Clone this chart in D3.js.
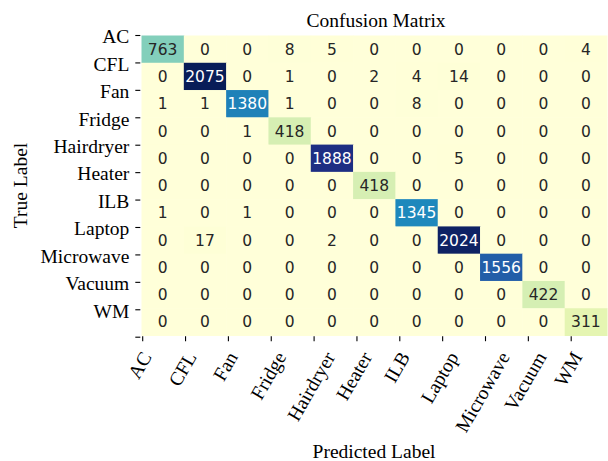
<!doctype html>
<html>
<head>
  <meta charset="UTF-8">
  <script src="https://d3js.org/d3.v7.min.js"></script>
  <style>
    body { margin: 0; background: #fff; }
    .serif { font-family: "Liberation Serif", "Times New Roman", serif; }
    .annot { font-family: "DejaVu Sans", sans-serif; font-size: 15.5px; }
  </style>
</head>
<body>
<svg width="608" height="461"></svg>
<script>
// appliance classes, same order on both axes
var labels = ["AC", "CFL", "Fan", "Fridge", "Hairdryer", "Heater", "ILB",
              "Laptop", "Microwave", "Vacuum", "WM"];

// one row per true label, columns are predicted labels
var rowAC        = [763, 0, 0, 8, 5, 0, 0, 0, 0, 0, 4];
var rowCFL       = [0, 2075, 0, 1, 0, 2, 4, 14, 0, 0, 0];
var rowFan       = [1, 1, 1380, 1, 0, 0, 8, 0, 0, 0, 0];
var rowFridge    = [0, 0, 1, 418, 0, 0, 0, 0, 0, 0, 0];
var rowHairdryer = [0, 0, 0, 0, 1888, 0, 0, 5, 0, 0, 0];
var rowHeater    = [0, 0, 0, 0, 0, 418, 0, 0, 0, 0, 0];
var rowILB       = [1, 0, 1, 0, 0, 0, 1345, 0, 0, 0, 0];
var rowLaptop    = [0, 17, 0, 0, 2, 0, 0, 2024, 0, 0, 0];
var rowMicrowave = [0, 0, 0, 0, 0, 0, 0, 0, 1556, 0, 0];
var rowVacuum    = [0, 0, 0, 0, 0, 0, 0, 0, 0, 422, 0];
var rowWM        = [0, 0, 0, 0, 0, 0, 0, 0, 0, 0, 311];

var matrix = [rowAC, rowCFL, rowFan, rowFridge, rowHairdryer, rowHeater,
              rowILB, rowLaptop, rowMicrowave, rowVacuum, rowWM];

// YlGnBu stops (matplotlib)
var ylgnbu = ["#ffffd9", "#edf8b1", "#c7e9b4", "#7fcdbb", "#41b6c4",
              "#1d91c0", "#225ea8", "#253494", "#081d58"];

var svg = d3.select("svg");
var fs = 19.5;

var mLeft = 141.5, mRight = 607, mTop = 35.5, mBottom = 335.5;
var n = labels.length;

var x = d3.scaleBand().domain(d3.range(n)).range([mLeft, mRight]);
var y = d3.scaleBand().domain(d3.range(n)).range([mTop, mBottom]);

// tick positions sit on cell edges
var xt = d3.scaleLinear().domain([0, 10]).range([142.2, 570.7]);
var yt = d3.scaleLinear().domain([0, 11]).range([35, 336.7]);

var vmax = d3.max(matrix, function(r) { return d3.max(r); });
var color = d3.scaleLinear()
    .domain(d3.range(ylgnbu.length).map(function(i) { return i * vmax / (ylgnbu.length - 1); }))
    .range(ylgnbu)
    .interpolate(d3.interpolateRgb);

function lum(c) {
  var rgb = d3.rgb(c);
  var f = function(v) { v = v / 255; return v <= 0.03928 ? v / 12.92 : Math.pow((v + 0.055) / 1.055, 2.4); };
  return 0.2126 * f(rgb.r) + 0.7152 * f(rgb.g) + 0.0722 * f(rgb.b);
}

var cells = [];
matrix.forEach(function(row, i) {
  row.forEach(function(v, j) { cells.push({r: i, c: j, v: v}); });
});

var g = svg.append("g");
g.selectAll("rect").data(cells).enter().append("rect")
  .attr("x", function(d) { return x(d.c); })
  .attr("y", function(d) { return y(d.r); })
  .attr("width", x.bandwidth() + 0.5)
  .attr("height", y.bandwidth() + 0.5)
  .attr("fill", function(d) { return color(d.v); });

g.selectAll("text").data(cells).enter().append("text")
  .attr("class", "annot")
  .attr("x", function(d) { return x(d.c) + x.bandwidth() / 2; })
  .attr("y", function(d) { return y(d.r) + y.bandwidth() / 2; })
  .attr("dy", "0.36em")
  .attr("text-anchor", "middle")
  .attr("fill", function(d) { return lum(color(d.v)) > 0.408 ? "#262626" : "#ffffff"; })
  .text(function(d) { return d.v; });

// y axis
var yAxis = svg.append("g")
  .attr("transform", "translate(140.3,0)")
  .call(d3.axisLeft(yt).tickValues(d3.range(12)).tickSize(5).tickPadding(6)
    .tickFormat(function(d) { return d < n ? labels[d] : ""; }));
yAxis.select(".domain").remove();
yAxis.selectAll("line").attr("stroke", "#000").attr("stroke-width", 1.1);
yAxis.selectAll("text")
  .attr("class", "serif")
  .attr("font-size", fs)
  .attr("fill", "#000")
  .attr("dy", "0.4em");

// x axis
var xAxis = svg.append("g")
  .attr("transform", "translate(0,336.2)")
  .call(d3.axisBottom(xt).tickValues(d3.range(n)).tickSize(5)
    .tickFormat(function(d) { return labels[d]; }));
xAxis.select(".domain").remove();
xAxis.selectAll("line").attr("stroke", "#000").attr("stroke-width", 1.1);
xAxis.selectAll("text")
  .attr("class", "serif")
  .attr("font-size", fs)
  .attr("fill", "#000")
  .attr("text-anchor", "end")
  .attr("y", 0)
  .attr("dy", null)
  .attr("transform", function() {
    var L = this.getComputedTextLength();
    var px = -3 + 0.25 * L + 0.433 * 0.68 * fs;
    var py = 14 + 0.34 * fs;
    return "translate(" + px + "," + py + ") rotate(-60)";
  });

// titles
svg.append("text").attr("class", "serif")
  .attr("x", 376).attr("y", 26.5)
  .attr("text-anchor", "middle").attr("font-size", fs)
  .text("Confusion Matrix");

svg.append("text").attr("class", "serif")
  .attr("x", 374).attr("y", 458)
  .attr("text-anchor", "middle").attr("font-size", fs)
  .text("Predicted Label");

svg.append("text").attr("class", "serif")
  .attr("transform", "translate(26.5,185.5) rotate(-90)")
  .attr("text-anchor", "middle").attr("font-size", fs)
  .text("True Label");
</script>
</body>
</html>
